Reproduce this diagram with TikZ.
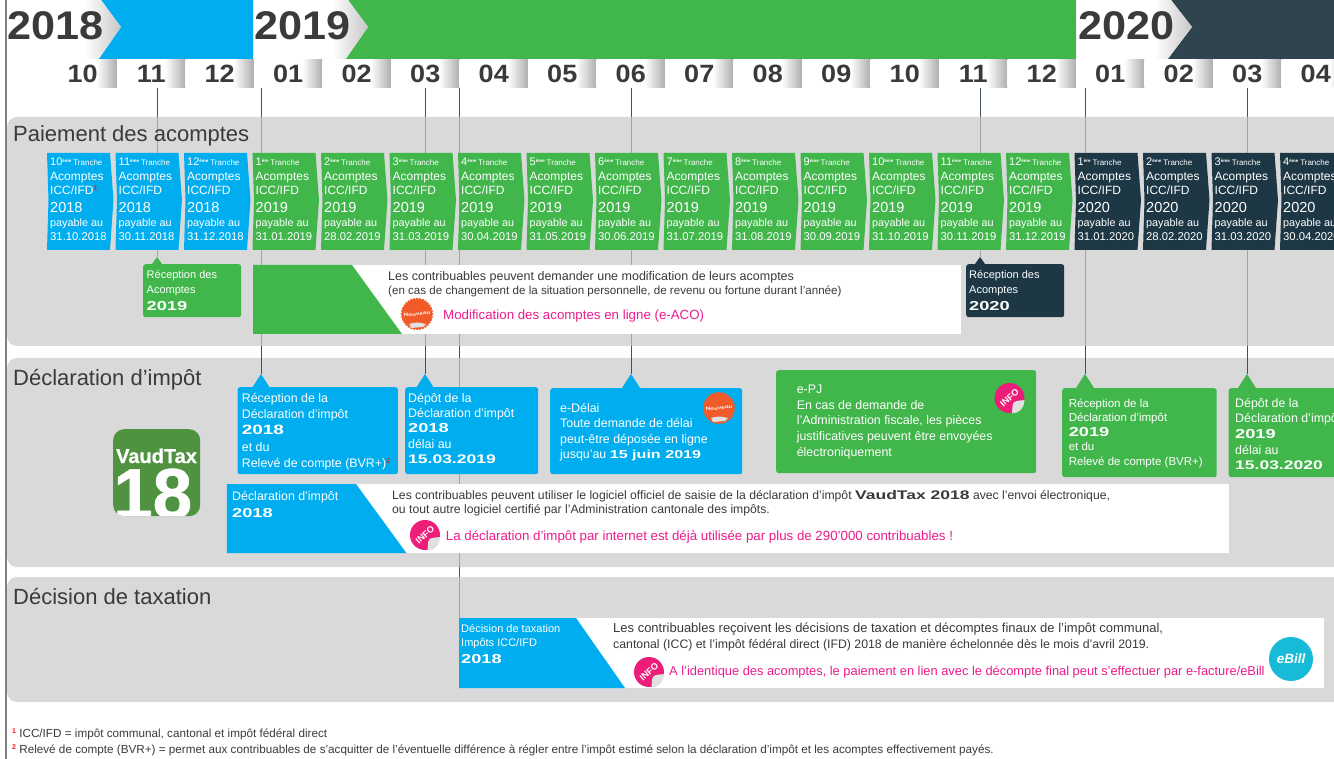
\documentclass[tikz,border=0pt]{standalone}
\usepackage{fontspec}
\setmainfont{Liberation Sans}
\newfontfamily\headfont[FakeStretch=1.08]{Liberation Sans}
\newfontfamily\boxfont[FakeStretch=1.4]{Liberation Sans}
\newfontfamily\iconfont[FakeBold=0.8]{Liberation Sans Bold}
\usetikzlibrary{shapes.geometric}

\definecolor{c2018}{HTML}{00AEEF}
\definecolor{c2019}{HTML}{41B64B}
\definecolor{c2020}{HTML}{1D3745}
\definecolor{cBanner}{HTML}{30444F}
\definecolor{cPanel}{HTML}{C9C9CB}
\definecolor{cTick}{HTML}{3E5160}
\definecolor{cPink}{HTML}{EC1C8C}
\definecolor{cBadge}{HTML}{EC1E79}
\definecolor{cOrange}{HTML}{F15A29}
\definecolor{cText}{HTML}{3A3A3C}
\definecolor{cRed}{HTML}{ED1C24}
\definecolor{cTile}{HTML}{ADADB1}
\definecolor{cIcon}{HTML}{4F9240}
\definecolor{cBill}{HTML}{17BBD8}

\pgfdeclarehorizontalshading{tileshade}{100bp}{color(0bp)=(white); color(60bp)=(white); color(75bp)=(cTile); color(100bp)=(cTile)}

\newcommand{\hs}{\rule{0pt}{14pt}}
\newcommand{\fnmark}[1]{\raisebox{3.5pt}{\textcolor{cRed}{\bfseries\fontsize{7}{7}\selectfont #1}}}
\newcommand{\boxbold}[2][13]{{\boxfont\bfseries\fontsize{#1}{15}\selectfont #2}}
\newcommand{\nouveaubadge}[3]{
    \node[newstar] (#1) at (#2,#3) {\makebox[0pt]{\rotatebox{6}{Nouveau}}};
    \fill[black!12] ([xshift=-8pt,yshift=-10pt]#1.center) .. controls ([xshift=0pt,yshift=-8pt]#1.center) .. ([xshift=9pt,yshift=-10pt]#1.center) -- ([xshift=6pt,yshift=-13pt]#1.center) -- ([xshift=-6pt,yshift=-14pt]#1.center) -- cycle;
}
\newcommand{\infobadge}[3]{
    \node[infostar] (#1) at (#2,#3) {INFO};
    \fill[black!12] (#1.-50) .. controls ([xshift=3pt,yshift=-3pt]#1.center) .. (#1.-122) .. controls ([xshift=10pt,yshift=-16pt]#1.center) and ([xshift=15pt,yshift=-9pt]#1.center) .. cycle;
}

\tikzset{
    yearlabel/.style={anchor=base west, inner sep=0pt, text=cText, font=\headfont\bfseries\fontsize{40}{40}\selectfont},
    monthtile/.style={rectangle, inner sep=0pt, minimum width=68.5pt, minimum height=28pt, shading=tileshade, text=cText, font=\headfont\bfseries\fontsize{25}{25}\selectfont},
    paneltitle/.style={anchor=base west, inner sep=0pt, text=cText, font=\fontsize{22}{24}\selectfont},
    tick/.style={cTick, line width=1pt},
    tranchetxt/.style={anchor=north west, inner sep=0pt, align=left, text=white, font=\fontsize{11.5}{13}\selectfont},
    tipbox/.style={rectangle, anchor=north west, inner sep=0pt, rounded corners=2.5pt},
    boxtxt/.style={anchor=north west, inner sep=0pt, align=left, text=white, font=\fontsize{12.4}{15}\selectfont},
    striptxt/.style={anchor=north west, inner sep=0pt, align=left, text=cText, font=\fontsize{12.2}{14}\selectfont},
    pinktxt/.style={anchor=base west, inner sep=0pt, text=cPink, font=\fontsize{13.3}{14}\selectfont},
    newstar/.style={star, star points=32, star point ratio=1.1, minimum size=33pt, inner sep=0pt, fill=cOrange, text=white, font=\boxfont\bfseries\fontsize{4.5}{5}\selectfont},
    infostar/.style={circle, minimum size=30pt, inner sep=0pt, fill=cBadge, text=white, rotate=42, font=\bfseries\fontsize{9}{9}\selectfont},
    footnote/.style={anchor=base west, inner sep=0pt, text=cText, font=\fontsize{11.7}{12}\selectfont}
}

\begin{document}
\begin{tikzpicture}[x=1pt, y=-1pt]

    \clip (0,0) rectangle (1334,759);

    % Points on the month row where the ticks start
    \foreach \name/\xpos in {a/157,b/261,c/425,d/459,e/631,f/980,g/1085,h/1247} {
        \coordinate (top\name) at (\xpos,88);
        \coordinate (gap\name) at (\xpos,346);
    }

    % Ends of the ticks, on the tips of the boxes
    \coordinate (tipRecA19) at (157,257);
    \coordinate (tipRecA20) at (980,257);
    \coordinate (tipRec18) at (261,374);
    \coordinate (tipDep18) at (425,374);
    \coordinate (tipDelai) at (631,374);
    \coordinate (tipRec19) at (1085,374);
    \coordinate (tipDep19) at (1247,374);
    \coordinate (tipDecis) at (459,618);

    % Ticks, under the grey panels
    \draw[tick] (topa) -- (tipRecA19);
    \draw[tick] (topb) -- (tipRec18);
    \draw[tick] (topc) -- (tipDep18);
    \draw[tick] (topd) -- (tipDecis);
    \draw[tick] (tope) -- (tipDelai);
    \draw[tick] (topf) -- (tipRecA20);
    \draw[tick] (topg) -- (tipRec19);
    \draw[tick] (toph) -- (tipDep19);

    % Grey panels
    \fill[cPanel, opacity=0.7, rounded corners=10pt] (7,117) rectangle (1360,346);
    \fill[cPanel, opacity=0.7, rounded corners=10pt] (7,358) rectangle (1360,567);
    \fill[cPanel, opacity=0.7, rounded corners=10pt] (7,577) rectangle (1360,702);

    % Ticks again where they stay dark above the boxes
    \draw[tick] (gapb) -- (tipRec18);
    \draw[tick] (gapc) -- (tipDep18);
    \draw[tick] (gape) -- (tipDelai);
    \draw[tick] (gapg) -- (tipRec19);
    \draw[tick] (gaph) -- (tipDep19);

    % Frame line on the left
    \draw[black!50, line width=1.5pt] (6,0) -- (6,759);

    % Year banners
    \fill[c2018] (101,0) -- (253,0) -- (253,60) -- (98,60) -- (121,27) -- cycle;
    \fill[c2019] (348,0) -- (1076,0) -- (1076,60) -- (345,60) -- (368,27) -- cycle;
    \fill[cBanner] (1171,0) -- (1340,0) -- (1340,60) -- (1167,60) -- (1192,27) -- cycle;
    \shade[left color=white, right color=black!22] (85,0) -- (101,0) -- (121,27) -- (98,60) -- (85,60) -- cycle;
    \shade[left color=white, right color=black!22] (332,0) -- (348,0) -- (368,27) -- (345,60) -- (332,60) -- cycle;
    \shade[left color=white, right color=black!22] (1155,0) -- (1171,0) -- (1192,27) -- (1167,60) -- (1155,60) -- cycle;
    \node[yearlabel] (y2018) at (7,40) {2018};
    \node[yearlabel] (y2019) at (254,40) {2019};
    \node[yearlabel] (y2020) at (1078,40) {2020};

    % Month row
    \foreach \i/\m in {0/10,1/11,2/12,3/01,4/02,5/03,6/04,7/05,8/06,9/07,10/08,11/09,12/10,13/11,14/12,15/01,16/02,17/03,18/04} {
        \node[monthtile] (m\i) at (82.75+68.5*\i,74) {\m};
    }

    % Panel titles
    \node[paneltitle] (titleA) at (13,142) {Paiement des acomptes};
    \node[paneltitle] (titleB) at (13,385) {Déclaration d’impôt};
    \node[paneltitle] (titleC) at (13,604) {Décision de taxation};

    % Loop to draw the instalments
    \foreach \i/\num/\rank/\yr/\pay in {0/10/ème/2018/31.10.2018,1/11/ème/2018/30.11.2018,2/12/ème/2018/31.12.2018,
        3/1/ère/2019/31.01.2019,4/2/ème/2019/28.02.2019,5/3/ème/2019/31.03.2019,6/4/ème/2019/30.04.2019,
        7/5/ème/2019/31.05.2019,8/6/ème/2019/30.06.2019,9/7/ème/2019/31.07.2019,10/8/ème/2019/31.08.2019,
        11/9/ème/2019/30.09.2019,12/10/ème/2019/31.10.2019,13/11/ème/2019/30.11.2019,14/12/ème/2019/31.12.2019,
        15/1/ère/2020/31.01.2020,16/2/ème/2020/28.02.2020,17/3/ème/2020/31.03.2020,18/4/ème/2020/30.04.2020} {
        \pgfmathsetmacro{\xo}{47+68.5*\i}
        \fill[c\yr] (\xo,153) -- ++(63,0) -- ++(3.5,47) -- ++(-3.5,50) -- ++(-63,0) -- ++(1.5,-50) -- cycle;
        \node[tranchetxt] (tr\i) at (\xo+3,151.7) {\hs{\fontsize{11}{13}\selectfont\num}\raisebox{3pt}{\fontsize{4.5}{5}\selectfont\bfseries\rank}\,{\fontsize{8}{13}\selectfont Tranche}\\[1.3pt]
            {\fontsize{12}{13}\selectfont Acomptes}\\[1pt]
            {\fontsize{12}{13}\selectfont ICC/IFD\ifnum\i=0\fnmark{1}\fi}\\[5pt]
            {\fontsize{14.5}{13}\selectfont\yr}\\[1pt]
            {\fontsize{10.8}{13}\selectfont payable au}\\[1pt]
            {\fontsize{11.3}{13}\selectfont\pay}};
    }

    % Reception of the instalment notices
    \node[tipbox, fill=c2019, minimum width=98pt, minimum height=53pt] (recA19) at (143,264) {};
    \fill[c2019] (tipRecA19) -- ++(-5,7) -- ++(10,0) -- cycle;
    \node[boxtxt, font=\fontsize{11}{15}\selectfont] (recA19txt) at (146.5,264) {\hs Réception des\\Acomptes\\[2pt]\boxbold{2019}};
    \node[tipbox, fill=c2020, minimum width=98pt, minimum height=53pt] (recA20) at (966,264) {};
    \fill[c2020] (tipRecA20) -- ++(-5,7) -- ++(10,0) -- cycle;
    \node[boxtxt, font=\fontsize{11}{15}\selectfont] (recA20txt) at (969,264) {\hs Réception des\\Acomptes\\[2pt]\boxbold{2020}};

    % Band about changing the instalments
    \fill[white] (253,265) rectangle (961,334);
    \fill[c2019] (253,265) -- (352,265) -- (402,334) -- (253,334) -- cycle;
    \node[striptxt] (acoA) at (388,266) {\hs{\fontsize{12.5}{14}\selectfont Les contribuables peuvent demander une modification de leurs acomptes}\\{\fontsize{11.6}{14}\selectfont (en cas de changement de la situation personnelle, de revenu ou fortune durant l’année)}};
    \node[pinktxt] (acoB) at (443,320) {Modification des acomptes en ligne (e-ACO)};
    \nouveaubadge{newAco}{417}{314}

    % Boxes of the tax return
    \node[tipbox, fill=c2018, minimum width=160.4pt, minimum height=87pt] (rec18) at (237.3,387) {};
    \fill[c2018] (tipRec18) -- ++(-9,14) -- ++(18,0) -- cycle;
    \node[boxtxt] (rec18txt) at (241.7,388) {\hs Réception de la\\[1pt]Déclaration d’impôt\\[1pt]\boxbold[13.5]{2018}\\[2pt]et du\\[1pt]Relevé de compte (BVR+)\fnmark{2}};

    \node[tipbox, fill=c2018, minimum width=133pt, minimum height=87pt] (dep18) at (405,387) {};
    \fill[c2018] (tipDep18) -- ++(-9,14) -- ++(18,0) -- cycle;
    \node[boxtxt] (dep18txt) at (408,388) {\hs Dépôt de la\\Déclaration d’impôt\\\boxbold{2018}\\[1pt]délai au\\\boxbold[12.5]{15.03.2019}};

    \node[tipbox, fill=c2018, minimum width=192pt, minimum height=86pt] (delai) at (550,388) {};
    \fill[c2018] (tipDelai) -- ++(-9,14) -- ++(18,0) -- cycle;
    \node[boxtxt] (delaitxt) at (560,398) {\hs e-Délai\\Toute demande de délai\\[1pt]peut-être déposée en ligne\\jusqu’au \boxbold[11.5]{15 juin 2019}};
    \nouveaubadge{newDelai}{719}{408}

    \node[tipbox, fill=c2019, minimum width=260pt, minimum height=103pt] (epj) at (776,370) {};
    \node[boxtxt] (epjtxt) at (796.6,379) {\hs e-PJ\\[1pt]En cas de demande de\\l’Administration fiscale, les pièces\\[1pt]justificatives peuvent être envoyées\\[1pt]électroniquement};
    \infobadge{infoPj}{1009.5}{398}

    \node[tipbox, fill=c2019, minimum width=154.5pt, minimum height=89pt] (rec19) at (1062,388) {};
    \fill[c2019] (tipRec19) -- ++(-9,14) -- ++(18,0) -- cycle;
    \node[boxtxt, font=\fontsize{11.5}{14.5}\selectfont] (rec19txt) at (1068.6,393) {\hs Réception de la\\Déclaration d’impôt\\\boxbold{2019}\\et du\\Relevé de compte (BVR+)};

    \node[tipbox, fill=c2019, minimum width=120pt, minimum height=89pt] (dep19) at (1228.5,388) {};
    \fill[c2019] (tipDep19) -- ++(-9,14) -- ++(18,0) -- cycle;
    \node[boxtxt] (dep19txt) at (1235,393) {\hs Dépôt de la\\Déclaration d’impôt\\[1pt]\boxbold{2019}\\[1pt]délai au\\\boxbold[12.5]{15.03.2020}};

    % VaudTax icon
    \node[rectangle, rounded corners=11pt, inner sep=0pt, anchor=north west, fill=cIcon, minimum width=87pt, minimum height=87pt,
        path picture={\node[anchor=base, inner sep=0pt, text=white, font=\iconfont\fontsize{71}{71}\selectfont] (icon18) at ([xshift=-4pt,yshift=-2pt]path picture bounding box.south) {18};}] (vaudicon) at (113,429) {};
    \node[anchor=base, inner sep=0pt, text=white, font=\iconfont\fontsize{20}{20}\selectfont] (vaudname) at (156.5,463) {VaudTax};

    % Band about the return
    \fill[white] (226.8,484) rectangle (1228.5,553);
    \fill[c2018] (226.8,484) -- (356,484) -- (406.4,553) -- (226.8,553) -- cycle;
    \node[boxtxt] (declA) at (232,486) {\hs Déclaration d’impôt\\[2pt]\boxbold{2018}};
    \node[striptxt] (declB) at (392,485) {\hs Les contribuables peuvent utiliser le logiciel officiel de saisie de la déclaration d’impôt {\boxfont\bfseries\fontsize{12.5}{14}\selectfont VaudTax 2018} avec l’envoi électronique,\\ou tout autre logiciel certifié par l’Administration cantonale des impôts.};
    \node[pinktxt] (declC) at (445.7,540) {La déclaration d’impôt par internet est déjà utilisée par plus de 290’000 contribuables !};
    \infobadge{infoDecl}{425}{535}

    % Band about the decision
    \fill[white] (459,618) rectangle (1324,688);
    \fill[c2018] (459,618) -- (576,618) -- (625,688) -- (459,688) -- cycle;
    \node[boxtxt] (decisA) at (461,618) {\hs{\fontsize{11}{14}\selectfont Décision de taxation}\\[-1pt]{\fontsize{11}{14}\selectfont Impôts ICC/IFD}\\[2pt]\boxbold{2018}};
    \node[striptxt] (decisB) at (613,618) {\hs{\fontsize{13}{14}\selectfont Les contribuables reçoivent les décisions de taxation et décomptes finaux de l’impôt communal,}\\[2pt]{\fontsize{12.3}{14}\selectfont cantonal (ICC) et l’impôt fédéral direct (IFD) 2018 de manière échelonnée dès le mois d’avril 2019.}};
    \node[pinktxt, font=\fontsize{12.85}{14}\selectfont] (decisC) at (669,675) {A l’identique des acomptes, le paiement en lien avec le décompte final peut s’effectuer par e-facture/eBill};
    \infobadge{infoDecis}{649}{672}
    \node[circle, minimum size=44pt, inner sep=0pt, fill=cBill, text=white, font=\bfseries\itshape\fontsize{13.5}{15}\selectfont] (ebill) at (1291,659) {eBill};

    % Footnotes
    \node[footnote] (noteA) at (12,737) {\fnmark{1} ICC/IFD = impôt communal, cantonal et impôt fédéral direct};
    \node[footnote] (noteB) at (12,753) {\fnmark{2} Relevé de compte (BVR+) = permet aux contribuables de s’acquitter de l’éventuelle différence à régler entre l’impôt estimé selon la déclaration d’impôt et les acomptes effectivement payés.};

\end{tikzpicture}
\end{document}
